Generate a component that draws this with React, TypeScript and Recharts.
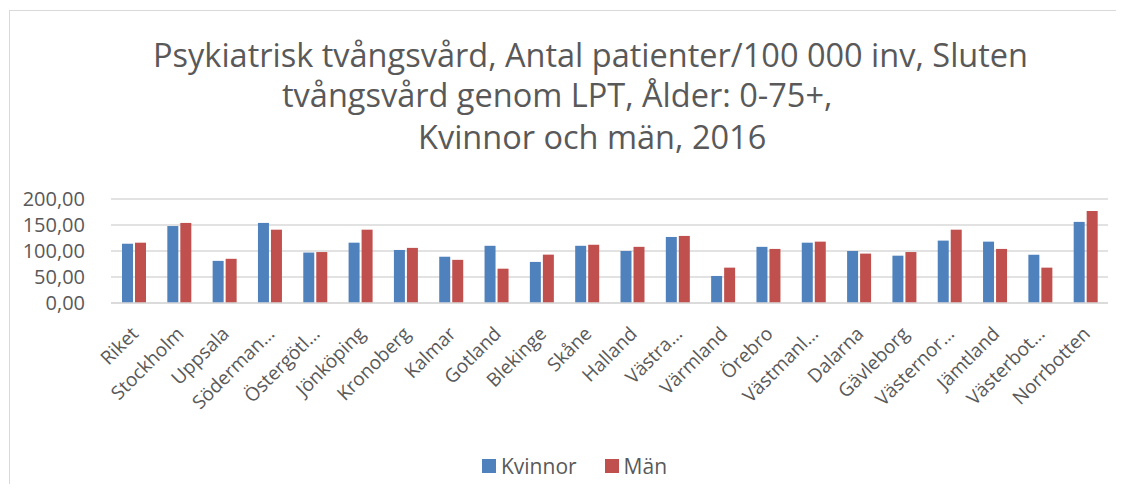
import { BarChart, Bar, XAxis, YAxis, CartesianGrid, Legend } from "recharts";

const regions = [
  "Riket",
  "Stockholm",
  "Uppsala",
  "Söderman…",
  "Östergötl…",
  "Jönköping",
  "Kronoberg",
  "Kalmar",
  "Gotland",
  "Blekinge",
  "Skåne",
  "Halland",
  "Västra…",
  "Värmland",
  "Örebro",
  "Västmanl…",
  "Dalarna",
  "Gävleborg",
  "Västernor…",
  "Jämtland",
  "Västerbot…",
  "Norrbotten",
];

const kvinnor = [
  114, 148, 81, 154, 97, 116, 102, 89, 110, 79, 110, 100, 127, 52, 108, 116,
  100, 91, 120, 118, 93, 156,
];

const man = [
  116, 154, 85, 141, 98, 141, 106, 83, 66, 93, 112, 108, 129, 68, 104, 118,
  95, 98, 141, 104, 68, 177,
];

const yTicks = [0, 50, 100, 150, 200];

const data = regions.map((name, i) => ({ name, kvinnor: kvinnor[i], man: man[i] }));

const FONT = "'Open Sans', sans-serif";
const TEXT = "#595959";
const BLUE = "#4F81BD";
const RED = "#C0504D";

function fmt(v: number) {
  return v.toFixed(2).replace(".", ",");
}

function RegionTick(props: any) {
  const { x, y, payload } = props;
  return (
    <g transform={`translate(${x + 6},${y + 32})`}>
      <text
        transform="rotate(-45)"
        textAnchor="end"
        fill={TEXT}
        fontSize={19}
        fontFamily={FONT}
      >
        {payload.value}
      </text>
    </g>
  );
}

function LegendBox() {
  const item = (color: string, label: string) => (
    <div style={{ display: "flex", alignItems: "center", gap: 5 }}>
      <div style={{ width: 14, height: 14, background: color }} />
      <span style={{ fontSize: 21, lineHeight: "22px", color: TEXT, fontFamily: FONT }}>{label}</span>
    </div>
  );
  return (
    <div style={{ display: "flex", justifyContent: "center", gap: 28, paddingLeft: 1 }}>
      {item(BLUE, "Kvinnor")}
      {item(RED, "Män")}
    </div>
  );
}

// title lines are placed by their left edge, as in the original wrapped title
const titleLine = (text: string, left: number, top: number) => (
  <div
    style={{
      position: "absolute",
      left,
      top,
      fontSize: 32.5,
      lineHeight: "32.5px",
      height: 36,
      overflow: "visible",
      color: TEXT,
      fontFamily: FONT,
      whiteSpace: "nowrap",
    }}
  >
    {text}
  </div>
);

export default function App() {
  return (
    <div style={{ position: "relative", width: 1100, height: 476 }}>
      <style>{"html,body{overflow:hidden}"}</style>
      <svg
        width={1116}
        height={484}
        style={{ position: "absolute", left: 0, top: 0 }}
      >
        <line x1={1.5} y1={2} x2={1.5} y2={484} stroke="#d9d9d9" />
        <line x1={1} y1={2.5} x2={1116} y2={2.5} stroke="#d9d9d9" />
      </svg>
      {titleLine("Psykiatrisk tvångsvård, Antal patienter/100 000 inv, Sluten", 145, 31)}
      {titleLine("tvångsvård genom LPT, Ålder: 0-75+,", 274, 71)}
      {titleLine("Kvinnor och män, 2016", 410, 113)}
      <div style={{ position: "absolute", left: 0, top: 0 }}>
        <BarChart
          width={1116}
          height={484}
          data={data}
          margin={{ top: 191, right: 16, bottom: 59, left: 0 }}
          barGap={2}
          barSize={11}
        >
          <CartesianGrid vertical={false} stroke="#d9d9d9" strokeWidth={1.5} />
          <XAxis
            dataKey="name"
            interval={0}
            height={130}
            axisLine={{ stroke: "#d9d9d9", strokeWidth: 1.5 }}
            tickLine={false}
            tickSize={0}
            tickMargin={0}
            tick={<RegionTick />}
          />
          <YAxis
            width={103}
            domain={[0, 200]}
            ticks={yTicks}
            interval={0}
            tickFormatter={fmt}
            axisLine={false}
            tickLine={false}
            tickMargin={20}
            tick={{ fill: TEXT, fontSize: 20, fontFamily: FONT }}
          />
          <Legend
            layout="horizontal"
            verticalAlign="middle"
            align="center"
            wrapperStyle={{ top: 447, left: 16, width: 1100 }}
            content={<LegendBox />}
          />
          <Bar dataKey="kvinnor" name="Kvinnor" fill={BLUE} isAnimationActive={false} />
          <Bar dataKey="man" name="Män" fill={RED} isAnimationActive={false} />
        </BarChart>
      </div>
    </div>
  );
}
